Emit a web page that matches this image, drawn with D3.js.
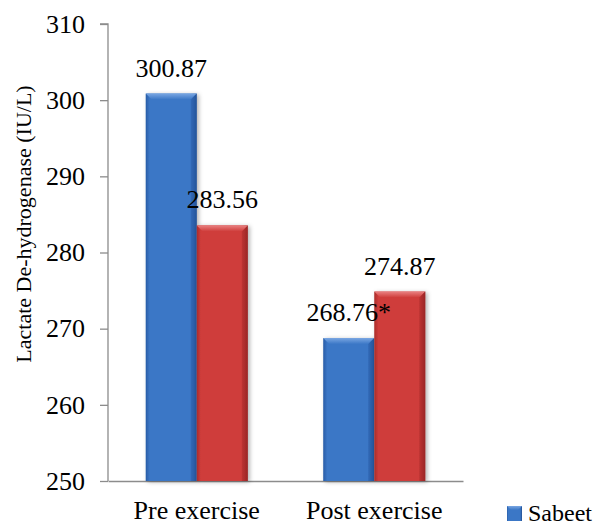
<!DOCTYPE html>
<html>
<head>
<meta charset="utf-8">
<script src="https://cdn.jsdelivr.net/npm/d3@7"></script>
<style>
  html, body { margin: 0; padding: 0; background: #fff; overflow: hidden; }
  svg { display: block; }
  text { font-family: "Liberation Serif", "Times New Roman", serif; fill: #000; }
</style>
</head>
<body>
<svg id="chart" width="597" height="528"></svg>
<script>
// LDH levels before and after exercise, two groups
const categories = ["Pre exercise", "Post exercise"];
const seriesNames = ["Sabeet", "Control"];
const sabeetValues = [300.87, 268.76];
const controlValues = [283.56, 274.87];
const significance = [["", ""], ["*", ""]];   // [category][series]
const yTicks = [250, 260, 270, 280, 290, 300, 310];
const yTitle = "Lactate De-hydrogenase (IU/L)";

const seriesValues = [sabeetValues, controlValues];
const palette = [
  { base: "#3b77c6", dark: "#285ca6", light: "#79a6e2", edge: "#234f91" },
  { base: "#cf3d3b", dark: "#a92b2a", light: "#e98181", edge: "#8f2322" }
];
const serif = "'Liberation Serif', 'Times New Roman', serif";

const svg = d3.select("#chart");
const plotLeft = 108, plotRight = 463, plotTop = 24, plotBottom = 481;

const y = d3.scaleLinear().domain([250, 310]).range([plotBottom, plotTop]);
const x0 = d3.scaleBand().domain(categories).range([plotLeft, plotRight])
  .paddingInner(0.425).paddingOuter(0.2125);
const x1 = d3.scaleBand().domain(seriesNames).range([0, x0.bandwidth()]);

// gradients and shadow
const defs = svg.append("defs");
palette.forEach((p, i) => {
  const g = defs.append("linearGradient").attr("id", "body" + i)
    .attr("x1", "0").attr("x2", "1").attr("y1", "0").attr("y2", "0");
  g.append("stop").attr("offset", "0").attr("stop-color", p.dark);
  g.append("stop").attr("offset", "0.08").attr("stop-color", p.base);
  g.append("stop").attr("offset", "0.88").attr("stop-color", p.base);
  g.append("stop").attr("offset", "1").attr("stop-color", p.edge);
  const t = defs.append("linearGradient").attr("id", "cap" + i)
    .attr("x1", "0").attr("x2", "0").attr("y1", "0").attr("y2", "1");
  t.append("stop").attr("offset", "0").attr("stop-color", p.light);
  t.append("stop").attr("offset", "1").attr("stop-color", p.base);
});
const f = defs.append("filter").attr("id", "shadow")
  .attr("x", "-20%").attr("y", "-10%").attr("width", "150%").attr("height", "130%");
f.append("feDropShadow").attr("dx", 2).attr("dy", 1).attr("stdDeviation", 2)
  .attr("flood-color", "#000").attr("flood-opacity", 0.3);

// y axis
const yAxis = d3.axisLeft(y).tickValues(yTicks).tickSize(8).tickPadding(15)
  .tickFormat(d3.format("d"));
const ya = svg.append("g").attr("transform", `translate(${plotLeft},0)`).call(yAxis)
  .attr("font-family", serif);
ya.select(".domain").attr("stroke", "#8c8c8c").attr("stroke-width", 1.3)
  .attr("d", `M-8,${plotTop}H0V${plotBottom}`);
ya.selectAll(".tick line").attr("stroke", "#8c8c8c").attr("stroke-width", 1.3);
ya.selectAll(".tick text").style("font-size", "26px")
  .style("font-family", serif).attr("fill", "#000");

// x axis baseline and category labels
const xAxis = d3.axisBottom(x0).tickSize(0).tickPadding(20);
const xa = svg.append("g").attr("transform", `translate(0,${plotBottom})`).call(xAxis)
  .attr("font-family", serif);
xa.select(".domain").attr("stroke", "#8c8c8c").attr("stroke-width", 1.3);
xa.selectAll(".tick text").style("font-size", "26px")
  .style("font-family", serif).attr("fill", "#000");

// y axis title
svg.append("text")
  .attr("transform", `translate(31,224) rotate(-90)`)
  .attr("text-anchor", "middle")
  .style("font-size", "22px")
  .style("font-family", serif)
  .text(yTitle);

// bars
const rows = categories.map((c, ci) => seriesNames.map((s, si) => ({
  cat: c, series: s, si, value: seriesValues[si][ci], mark: significance[ci][si]
})));

const groups = svg.append("g").selectAll("g").data(rows).join("g")
  .attr("transform", d => `translate(${x0(d[0].cat)},0)`);

const bars = groups.selectAll("g.bar").data(d => d).join("g").attr("class", "bar");
bars.append("rect")
  .attr("x", d => x1(d.series))
  .attr("y", d => y(d.value))
  .attr("width", x1.bandwidth())
  .attr("height", d => y(250) - y(d.value))
  .attr("fill", d => `url(#body${d.si})`)
  .attr("filter", "url(#shadow)");
// bevelled top edge
const bev = 6;
bars.append("path")
  .attr("d", d => {
    const xs = x1(d.series), w = x1.bandwidth(), yt = y(d.value);
    return `M${xs},${yt}H${xs + w}L${xs + w - bev},${yt + bev}H${xs + bev}Z`;
  })
  .attr("fill", d => `url(#cap${d.si})`);
// side shading
bars.append("path")
  .attr("d", d => {
    const xs = x1(d.series), w = x1.bandwidth(), yt = y(d.value);
    return `M${xs + w},${yt}L${xs + w - bev},${yt + bev}V${y(250)}H${xs + w}Z`;
  })
  .attr("fill", d => palette[d.si].dark).attr("opacity", 0.45);

// value labels
groups.selectAll("text.val").data(d => d).join("text")
  .attr("class", "val")
  .attr("x", d => x1(d.series) + x1.bandwidth() / 2)
  .attr("y", d => y(d.value) - 17)
  .attr("text-anchor", "middle")
  .style("font-size", "26px")
  .style("font-family", serif)
  .text(d => d3.format(".2f")(d.value) + d.mark);

// legend: the strip at the lower right only has room for the first entry
const legend = svg.append("g").selectAll("g").data(seriesNames.slice(0, 1)).join("g")
  .attr("transform", (d, i) => `translate(507,${506 + i * 30})`);
legend.append("rect").attr("width", 15).attr("height", 15)
  .attr("fill", (d, i) => `url(#body${i})`);
legend.append("path")
  .attr("d", "M0,0H15L11,4H4Z")
  .attr("fill", (d, i) => `url(#cap${i})`);
legend.append("text").attr("x", 21).attr("y", 15)
  .style("font-size", "24px")
  .style("font-family", serif)
  .text(d => d);
</script>
</body>
</html>
